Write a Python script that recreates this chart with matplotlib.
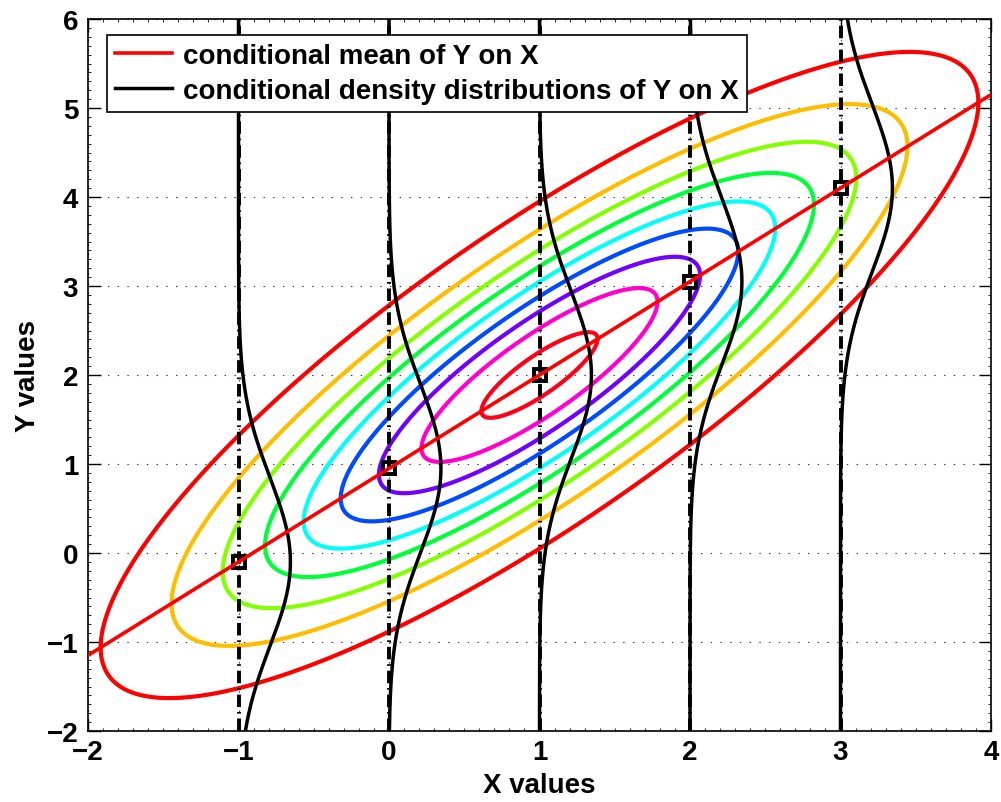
import numpy as np
import matplotlib
matplotlib.use("Agg")
import matplotlib.pyplot as plt
from matplotlib.ticker import MultipleLocator

plt.rcParams['font.family'] = ['Liberation Sans', 'DejaVu Sans']
plt.rcParams['font.weight'] = 'bold'
plt.rcParams['lines.scale_dashes'] = False

# bivariate normal for (X, Y)
mu = [1.0, 2.0]
cov = [[2.0, 2.1],
       [2.1, 3.1]]

# density values of the drawn contours (outer -> inner)
levels = [0.0142, 0.0267, 0.0393, 0.0518, 0.0644, 0.0769, 0.0895, 0.1020, 0.1146]

# x positions where the conditional density of Y is shown
x_slices = [-1, 0, 1, 2, 3]
density_scale = 0.818

xlim = (-2, 4)
ylim = (-2, 6)
xticks = [-2, -1, 0, 1, 2, 3, 4]
yticks = [-2, -1, 0, 1, 2, 3, 4, 5, 6]

sxx, sxy, syy = cov[0][0], cov[0][1], cov[1][1]
slope = sxy / sxx
cond_var = syy - sxy**2 / sxx


def cond_mean(x):
    return mu[1] + slope * (np.asarray(x) - mu[0])


gx = np.linspace(xlim[0], xlim[1], 500)
gy = np.linspace(ylim[0], ylim[1], 500)
X, Y = np.meshgrid(gx, gy)
det = sxx * syy - sxy**2
dx, dy = X - mu[0], Y - mu[1]
q = (syy * dx**2 - 2 * sxy * dx * dy + sxx * dy**2) / det
Z = np.exp(-0.5 * q) / (2 * np.pi * np.sqrt(det))

fig = plt.figure(figsize=(10.01, 8.03), dpi=100)
ax = fig.add_axes([88 / 1001, 1 - 732 / 803, 903 / 1001, 712 / 803])

colors = plt.cm.hsv(np.linspace(0, 1, len(levels)))
ax.contour(X, Y, Z, levels=levels, colors=colors, linewidths=3.0, zorder=1)

# vertical slices with the conditional mean marked
for xs in x_slices:
    ax.plot([xs, xs], ylim, color='k', lw=2.8, ls=(0, (9, 3.5, 1.2, 3.5)), zorder=2)
ax.plot(x_slices, cond_mean(x_slices), 's', ms=9, mfc='none', mec='k', mew=2.8, zorder=2)

# conditional densities of Y given X = xs
yy = np.linspace(ylim[0], ylim[1], 400)
for i, xs in enumerate(x_slices):
    m = cond_mean(xs)
    pdf = np.exp(-(yy - m)**2 / (2 * cond_var)) / np.sqrt(2 * np.pi * cond_var)
    ax.plot(xs + density_scale * pdf, yy, color='k', lw=2.5, zorder=3,
            label='conditional density distributions of Y on X' if i == 0 else None)

xline = np.array(xlim)
ax.plot(xline, cond_mean(xline), color='r', lw=2.6, zorder=4,
        label='conditional mean of Y on X')

ax.set_xlim(xlim)
ax.set_ylim(ylim)
ax.set_xticks(xticks)
ax.set_yticks(yticks)
ax.xaxis.set_minor_locator(MultipleLocator(0.1))
ax.yaxis.set_minor_locator(MultipleLocator(0.1))
ax.tick_params(which='both', direction='in', top=True, right=True, labelsize=20, width=1.0)
ax.tick_params(which='major', length=9)
ax.tick_params(which='minor', length=2.5, width=0.6)
ax.tick_params(axis='x', pad=6)
ax.tick_params(axis='y', pad=7)
ax.grid(True, which='major', color='k', lw=0.8, ls=(0, (1, 6)), alpha=0.8)
ax.set_axisbelow(True)
for sp in ax.spines.values():
    sp.set_linewidth(1.2)

ax.set_xlabel('X values', fontsize=20, fontweight='bold', labelpad=5)
ax.set_ylabel('Y values', fontsize=20, fontweight='bold', labelpad=4)

handles, labels = ax.get_legend_handles_labels()
order = [labels.index('conditional mean of Y on X'),
         labels.index('conditional density distributions of Y on X')]
leg = ax.legend([handles[i] for i in order], [labels[i] for i in order],
                loc='upper left', bbox_to_anchor=(0.021, 0.978), fontsize=20,
                fancybox=False, framealpha=1, edgecolor='k', handlelength=2.05,
                labelspacing=0.32, borderpad=0.3, handletextpad=0.4,
                borderaxespad=0)
leg.get_frame().set_linewidth(1.2)

fig.savefig('out.png', dpi=100)
